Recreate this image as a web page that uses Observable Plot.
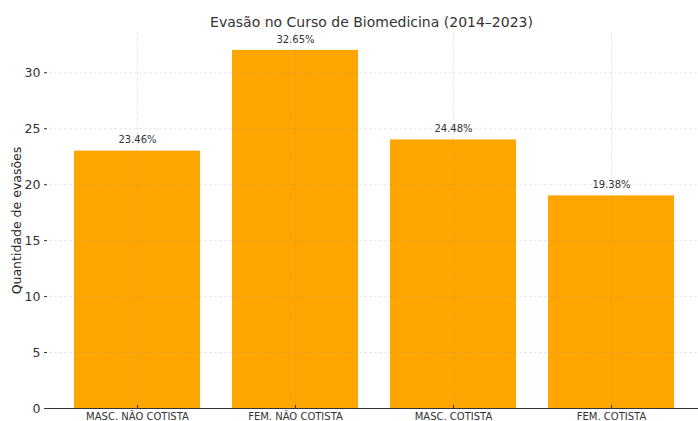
<!DOCTYPE html>
<html><head><meta charset="utf-8">
<script src="https://cdn.jsdelivr.net/npm/d3@7"></script>
<script src="https://cdn.jsdelivr.net/npm/@observablehq/plot@0.6"></script>
<style>body{margin:0;background:#fff}</style>
</head><body><div id="chart"></div>
<script>
const categories = ["MASC. NÃO COTISTA", "FEM. NÃO COTISTA", "MASC. COTISTA", "FEM. COTISTA"];
const values = [23, 32, 24, 19];
const pctLabels = ["23.46%", "32.65%", "24.48%", "19.38%"];
const yTicks = [0, 5, 10, 15, 20, 25, 30];
const title = "Evasão no Curso de Biomedicina (2014–2023)";
const yLabel = "Quantidade de evasões";

const data = categories.map((c, i) => ({cat: c, val: values[i], lab: pctLabels[i]}));
const font = "DejaVu Sans, sans-serif";

const chart = Plot.plot({
  width: 698, height: 421,
  marginLeft: 44, marginRight: 0, marginTop: 32, marginBottom: 13,
  style: {fontFamily: font, color: "#333", background: "#fff"},
  x: {domain: categories, range: [44, 705], paddingInner: 0.2, paddingOuter: 0.19, label: null},
  y: {domain: [0, 33.6], label: null},
  marks: [
    Plot.barY(data, {x: "cat", y: "val", fill: "#FFA500"}),
    Plot.gridX(categories, {stroke: "#999", strokeOpacity: 0.3, strokeDasharray: "3,2", strokeWidth: 0.8}),
    Plot.gridY(yTicks, {stroke: "#999", strokeOpacity: 0.3, strokeDasharray: "3,2", strokeWidth: 0.8}),
    Plot.text(data, {x: "cat", y: "val", text: "lab", dy: -11, fontSize: 10, fill: "#333"}),
    Plot.ruleY([0], {stroke: "#333", strokeWidth: 1}),
    Plot.ruleX([0], {x: () => 44, stroke: "#333", strokeWidth: 1}),
    Plot.axisX({tickSize: -3, tickPadding: 7, fontSize: 10, label: null, stroke: "#333"}),
    Plot.axisY(yTicks, {tickSize: -3, tickPadding: 7, fontSize: 12.5, label: null, stroke: "#333"}),
    Plot.text([title], {frameAnchor: "top", lineAnchor: "middle", dy: -10, fontSize: 14, fill: "#333"}),
    Plot.text([yLabel], {frameAnchor: "left", textAnchor: "middle", lineAnchor: "middle", dx: -28, rotate: -90, fontSize: 12.5, fill: "#222"})
  ]
});
document.getElementById("chart").appendChild(chart);
</script></body></html>
